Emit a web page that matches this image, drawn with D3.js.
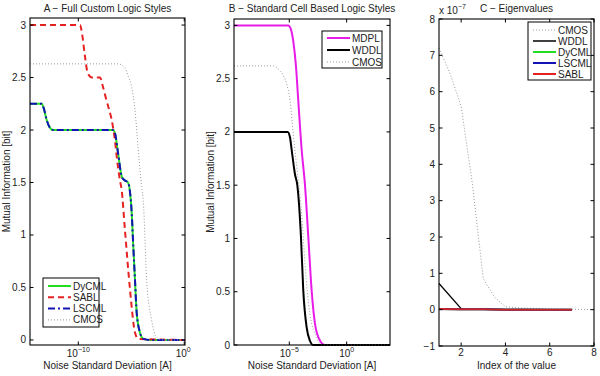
<!DOCTYPE html>
<html><head><meta charset="utf-8">
<script src="https://cdn.jsdelivr.net/npm/d3@7"></script>
<style>
body{margin:0;background:#fff;}
svg{display:block;font-family:"Liberation Sans",Arial,Helvetica,sans-serif;}
</style></head>
<body><svg id="c" width="600" height="376"></svg>
<script>
// ---------- DATA ----------
// Panel A (x stored as log10 of noise std deviation)
const aDyLogX   = [-14.56,-13.45,-13.24,-13.0,-12.67,-12.39,-6.73,-6.54,-6.25,-5.88,-5.6,-5.31,-4.96,-4.81,-4.65,-4.49,-4.18,-3.87,-3.24,0.07];
const aDyY      = [2.25,2.25,2.2,2.1,2.02,2.0,2.0,1.97,1.78,1.55,1.52,1.5,1.21,0.89,0.57,0.26,0.07,0.01,0,0];
const aLsLogX   = [-14.56,-13.45,-13.24,-13.0,-12.67,-12.39,-6.73,-6.54,-6.25,-5.88,-5.6,-5.31,-4.96,-4.81,-4.65,-4.49,-4.18,-3.87,-3.24,0.07];
const aLsY      = [2.25,2.25,2.2,2.1,2.02,2.0,2.0,1.97,1.78,1.55,1.52,1.5,1.21,0.89,0.57,0.26,0.07,0.01,0,0];
const aSablLogX = [-14.56,-9.84,-9.65,-9.37,-9.18,-8.9,-8.7,-7.95,-7.67,-7.36,-6.73,-6.54,-6.38,-6.07,-5.91,-5.6,-5.12,-4.65,-4.34,0.07];
const aSablY    = [3.0,3.0,2.92,2.7,2.57,2.51,2.5,2.5,2.41,2.29,2.03,1.9,1.75,1.52,1.43,1.05,0.48,0.07,0.01,0];
const aCmosLogX = [-14.56,-6.23,-5.59,-5.28,-4.96,-4.65,-4.34,-4.02,-3.87,-3.55,-3.08,-2.6,-2.0,0.07];
const aCmosY    = [2.63,2.63,2.59,2.51,2.41,2.19,1.81,1.46,1.33,0.57,0.19,0.02,0,0];
// Panel B
const bMdplLogX = [-9.82,-5.09,-4.88,-4.65,-4.42,-4.22,-3.92,-3.63,-3.34,-3.05,-2.76,-2.32,-1.89,3.78];
const bMdplY    = [3.0,3.0,2.97,2.85,2.62,2.3,1.83,1.5,1.01,0.51,0.2,0.04,0,0];
const bWddlLogX = [-9.82,-5.14,-4.94,-4.79,-4.5,-4.3,-3.98,-3.78,-3.48,-3.2,-2.91,3.78];
const bWddlY    = [2.0,2.0,1.95,1.83,1.6,1.5,1.01,0.51,0.16,0.04,0,0];
const bCmosLogX = [-9.82,-6.39,-5.96,-5.52,-5.23,-4.94,-4.65,-4.35,-3.92,-3.63,-3.2,-2.61,-2.18,3.78];
const bCmosY    = [2.62,2.62,2.59,2.53,2.45,2.3,1.98,1.67,1.23,0.76,0.29,0.07,0,0];
// Panel C (values in units of 1e-7)
const cIndex     = [1,2,3,4,5,6,7];
const cWddl      = [0.72,0.03,0.02,0.01,0.01,0,0];
const cDycml     = [0.02,0.01,0.01,0,0,0,0];
const cLscml     = [0.02,0.01,0.01,0,0,0,0];
const cSabl      = [0.02,0.01,0.01,0,0,0,0];
const cCmosIndex = [1,1.5,2,2.5,3,3.5,4,4.5,5,5.5,6,6.5,7,7.5,8];
const cCmos      = [7.2,6.5,5.6,3.5,0.85,0.35,0.08,0.05,0.04,0.03,0.02,0.02,0.01,0.01,0];
// Ticks
const aYTicks = [0,0.5,1,1.5,2,2.5,3];
const aXTickExp = [-10,0];
const bXTickExp = [-5,0];
const cYTicks = [-1,0,1,2,3,4,5,6,7,8];
const cXTicks = [2,4,6,8];

// ---------- STYLES ----------
const GREEN="#22dd22", RED="#e52222", BLUE="#1414b4", GRAY="#9a9a9a", MAG="#e81ce8", BLACK="#000";
const svg=d3.select("#c");
const FS=10;

function panel(o){
  const g=svg.append("g");
  const {x,y,L,R,T,B}=o;
  g.append("rect").attr("x",L).attr("y",T).attr("width",R-L).attr("height",B-T)
    .attr("fill","#fff");
  const lines=g.append("g");
  o.series.forEach(s=>{
    const pts=s.xs.map((v,i)=>[v,s.ys[i]]);
    lines.append("path").datum(pts)
      .attr("d",d3.line().x(d=>x(d[0])).y(d=>y(d[1])).curve(s.curve||d3.curveMonotoneX))
      .attr("fill","none").attr("stroke",s.color).attr("stroke-width",s.w)
      .attr("stroke-dasharray",s.dash||null).attr("stroke-linecap","butt");
  });
  // box
  g.append("rect").attr("x",L).attr("y",T).attr("width",R-L).attr("height",B-T)
    .attr("fill","none").attr("stroke","#000").attr("stroke-width",1.1);
  const tl=3.5;
  // y ticks
  o.yTicks.forEach(t=>{
    const yy=y(t);
    g.append("line").attr("x1",L).attr("x2",L+tl).attr("y1",yy).attr("y2",yy).attr("stroke","#000");
    g.append("line").attr("x1",R).attr("x2",R-tl).attr("y1",yy).attr("y2",yy).attr("stroke","#000");
    g.append("text").attr("x",L-4).attr("y",yy+3.5).attr("text-anchor","end")
      .attr("font-size",FS).attr("fill","#222").text(o.yFmt?o.yFmt(t):String(t).replace("-","\u2212"));
  });
  // x ticks
  o.xTicks.forEach(t=>{
    const xx=x(t.v);
    g.append("line").attr("x1",xx).attr("x2",xx).attr("y1",B).attr("y2",B-tl).attr("stroke","#000");
    g.append("line").attr("x1",xx).attr("x2",xx).attr("y1",T).attr("y2",T+tl).attr("stroke","#000");
    const tx=g.append("text").attr("x",xx+(t.dx||0)).attr("y",o.xLabY).attr("text-anchor","middle")
      .attr("font-size",FS).attr("fill","#222");
    tx.append("tspan").text(t.base);
    if(t.sup!==undefined) tx.append("tspan").attr("dy",-5).attr("font-size",7).text(t.sup);
  });
  // title
  g.append("text").attr("x",(L+R)/2).attr("y",12).attr("text-anchor","middle")
    .attr("font-size",FS).attr("fill","#222").text(o.title);
  // x label
  g.append("text").attr("x",(L+R)/2).attr("y",369).attr("text-anchor","middle")
    .attr("font-size",FS).attr("fill","#222").text(o.xLabel);
  if(o.yLabel){
    g.append("text").attr("transform",`translate(${o.yLabX},${(T+B)/2}) rotate(-90)`)
      .attr("text-anchor","middle").attr("font-size",FS).attr("fill","#222").text(o.yLabel);
  }
  // legend
  const lg=o.legend;
  g.append("rect").attr("x",lg.x).attr("y",lg.y).attr("width",lg.w).attr("height",lg.h)
    .attr("fill","#fff").attr("stroke","#000").attr("stroke-width",1);
  lg.items.forEach((it,i)=>{
    const yy=lg.y+lg.first+i*lg.step;
    g.append("line").attr("x1",lg.x+5).attr("x2",lg.x+28).attr("y1",yy).attr("y2",yy)
      .attr("stroke",it.color).attr("stroke-width",it.w).attr("stroke-dasharray",it.dash||null);
    g.append("text").attr("x",lg.x+30).attr("y",yy+3.5).attr("font-size",FS).attr("fill","#222").text(it.name);
  });
  return g;
}

const p10=e=>Math.pow(10,e);

// Panel A
{
  const L=30,R=185,T=18,B=345;
  const x=d3.scaleLog().domain([p10(-14.56),p10(0.07)]).range([L,R]);
  const y=d3.scaleLinear().domain([-0.048,3.067]).range([B,T]);
  panel({x,y,L,R,T,B,
    title:"A \u2212 Full Custom Logic Styles",
    xLabel:"Noise Standard Deviation [A]",
    yLabel:"Mutual Information [bit]", yLabX:10,
    yTicks:aYTicks,
    xTicks:aXTickExp.map(e=>({v:p10(e),base:"10",sup:e===0?"0":"\u2212"+Math.abs(e),dx:e===0?-1:0})),
    xLabY:357,
    series:[
      {xs:aDyLogX.map(p10),ys:aDyY,color:GREEN,w:2},
      {xs:aSablLogX.map(p10),ys:aSablY,color:RED,w:2,dash:"6,4"},
      {xs:aLsLogX.map(p10),ys:aLsY,color:BLUE,w:2,dash:"7,3,2,3"},
      {xs:aCmosLogX.map(p10),ys:aCmosY,color:GRAY,w:1,dash:"1,2"}
    ],
    legend:{x:43,y:278,w:56,h:49,first:8,step:11.3,items:[
      {name:"DyCML",color:GREEN,w:2},
      {name:"SABL",color:RED,w:2,dash:"6,4"},
      {name:"LSCML",color:BLUE,w:2,dash:"7,3,2,3"},
      {name:"CMOS",color:GRAY,w:1,dash:"1,2"}]}
  });
}
// Panel B
{
  const L=234,R=390,T=19,B=345;
  const x=d3.scaleLog().domain([p10(-9.82),p10(3.78)]).range([L,R]);
  const y=d3.scaleLinear().domain([0,3.06]).range([B,T]);
  panel({x,y,L,R,T,B,
    title:"B \u2212 Standard Cell Based Logic Styles",
    xLabel:"Noise Standard Deviation [A]",
    yLabel:"Mutual Information [bit]", yLabX:214,
    yTicks:aYTicks,
    xTicks:bXTickExp.map(e=>({v:p10(e),base:"10",sup:e===0?"0":"\u2212"+Math.abs(e)})),
    xLabY:357,
    series:[
      {xs:bMdplLogX.map(p10),ys:bMdplY,color:MAG,w:2},
      {xs:bWddlLogX.map(p10),ys:bWddlY,color:BLACK,w:2},
      {xs:bCmosLogX.map(p10),ys:bCmosY,color:GRAY,w:1,dash:"1,2"}
    ],
    legend:{x:322,y:31,w:60,h:37,first:7,step:12,items:[
      {name:"MDPL",color:MAG,w:2},
      {name:"WDDL",color:BLACK,w:2},
      {name:"CMOS",color:GRAY,w:1,dash:"1,2"}]}
  });
}
// Panel C
{
  const L=439,R=594,T=19,B=346;
  const x=d3.scaleLinear().domain([1,8]).range([L,R]);
  const y=d3.scaleLinear().domain([-1,8]).range([B,T]);
  const g=panel({x,y,L,R,T,B,
    title:"C \u2212 Eigenvalues",
    xLabel:"Index of the value",
    yTicks:cYTicks,
    xTicks:cXTicks.map(v=>({v,base:String(v)})),
    xLabY:356,
    series:[
      {xs:cCmosIndex,ys:cCmos,color:GRAY,w:1,dash:"1,2",curve:d3.curveLinear},
      {xs:cIndex,ys:cWddl,color:BLACK,w:1.3,curve:d3.curveLinear},
      {xs:cIndex,ys:cDycml,color:GREEN,w:2,curve:d3.curveLinear},
      {xs:cIndex,ys:cLscml,color:BLUE,w:2,curve:d3.curveLinear},
      {xs:cIndex,ys:cSabl,color:"#c8262c",w:2,curve:d3.curveLinear}
    ],
    legend:{x:528,y:22,w:63,h:58,first:8,step:11,items:[
      {name:"CMOS",color:GRAY,w:1,dash:"1,2"},
      {name:"WDDL",color:BLACK,w:1.5},
      {name:"DyCML",color:GREEN,w:2},
      {name:"LSCML",color:BLUE,w:2},
      {name:"SABL",color:RED,w:2}]}
  });
  const t=g.append("text").attr("x",439).attr("y",14).attr("font-size",FS).attr("fill","#222");
  t.append("tspan").text("x 10");
  t.append("tspan").attr("dy",-5).attr("font-size",7).text("\u22127");
}
</script></body></html>
